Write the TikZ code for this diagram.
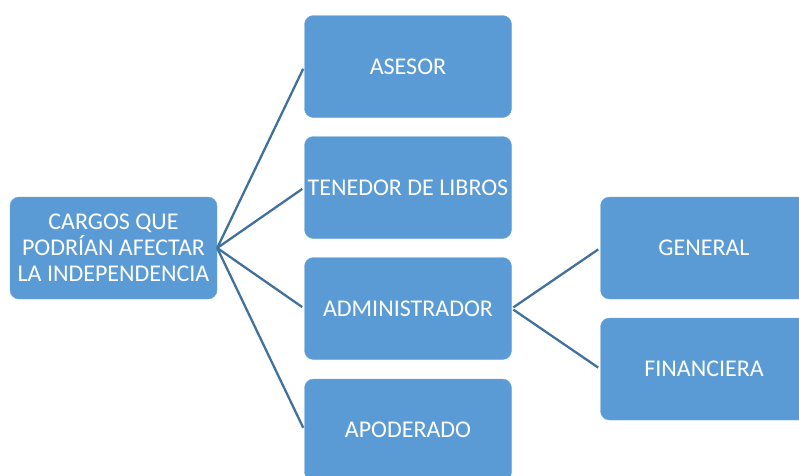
\documentclass[tikz,border=0pt]{standalone}
\usepackage{fontspec}
\setmainfont{Carlito}
\usepackage{tikz}
\usetikzlibrary{positioning}

\definecolor{boxblue}{HTML}{5B9BD5}
\definecolor{lineblue}{HTML}{41719C}

\tikzset{
	cargo/.style={fill=boxblue, draw=boxblue!90!white, rounded corners=9pt, text=white,
		minimum width=207pt, minimum height=102pt, align=center,
		font=\fontsize{24}{26}\selectfont, inner sep=1pt},
	rama/.style={draw=lineblue, line width=2.3pt, shorten >=2.5pt}
}

\begin{document}
\begin{tikzpicture}[x=1pt,y=-1pt]
		\useasboundingbox (0,0) rectangle (799,475);
		\clip (0,0) rectangle (799,475);

		\node[cargo] (raiz) at (113.5,248) {CARGOS QUE\\PODRÍAN AFECTAR\\LA INDEPENDENCIA};

		\node[cargo] (asesor) at (408,66.5) {ASESOR};
		\node[cargo] (tenedor) at (408,187.5) {TENEDOR DE LIBROS};
		\node[cargo] (admin) at (408,308.5) {ADMINISTRADOR};
		\node[cargo] (apoderado) at (408,430) {APODERADO};

		\node[cargo] (general) at (704,248) {GENERAL};
		\node[cargo] (financiera) at (704,369) {FINANCIERA};

		\draw[rama] (raiz.east) -- (asesor.west);
		\draw[rama] (raiz.east) -- (tenedor.west);
		\draw[rama] (raiz.east) -- (admin.west);
		\draw[rama] (raiz.east) -- (apoderado.west);

		\draw[rama, shorten <=2pt] (admin.east) -- (general.west);
		\draw[rama, shorten <=2pt] (admin.east) -- (financiera.west);
	\end{tikzpicture}
\end{document}
